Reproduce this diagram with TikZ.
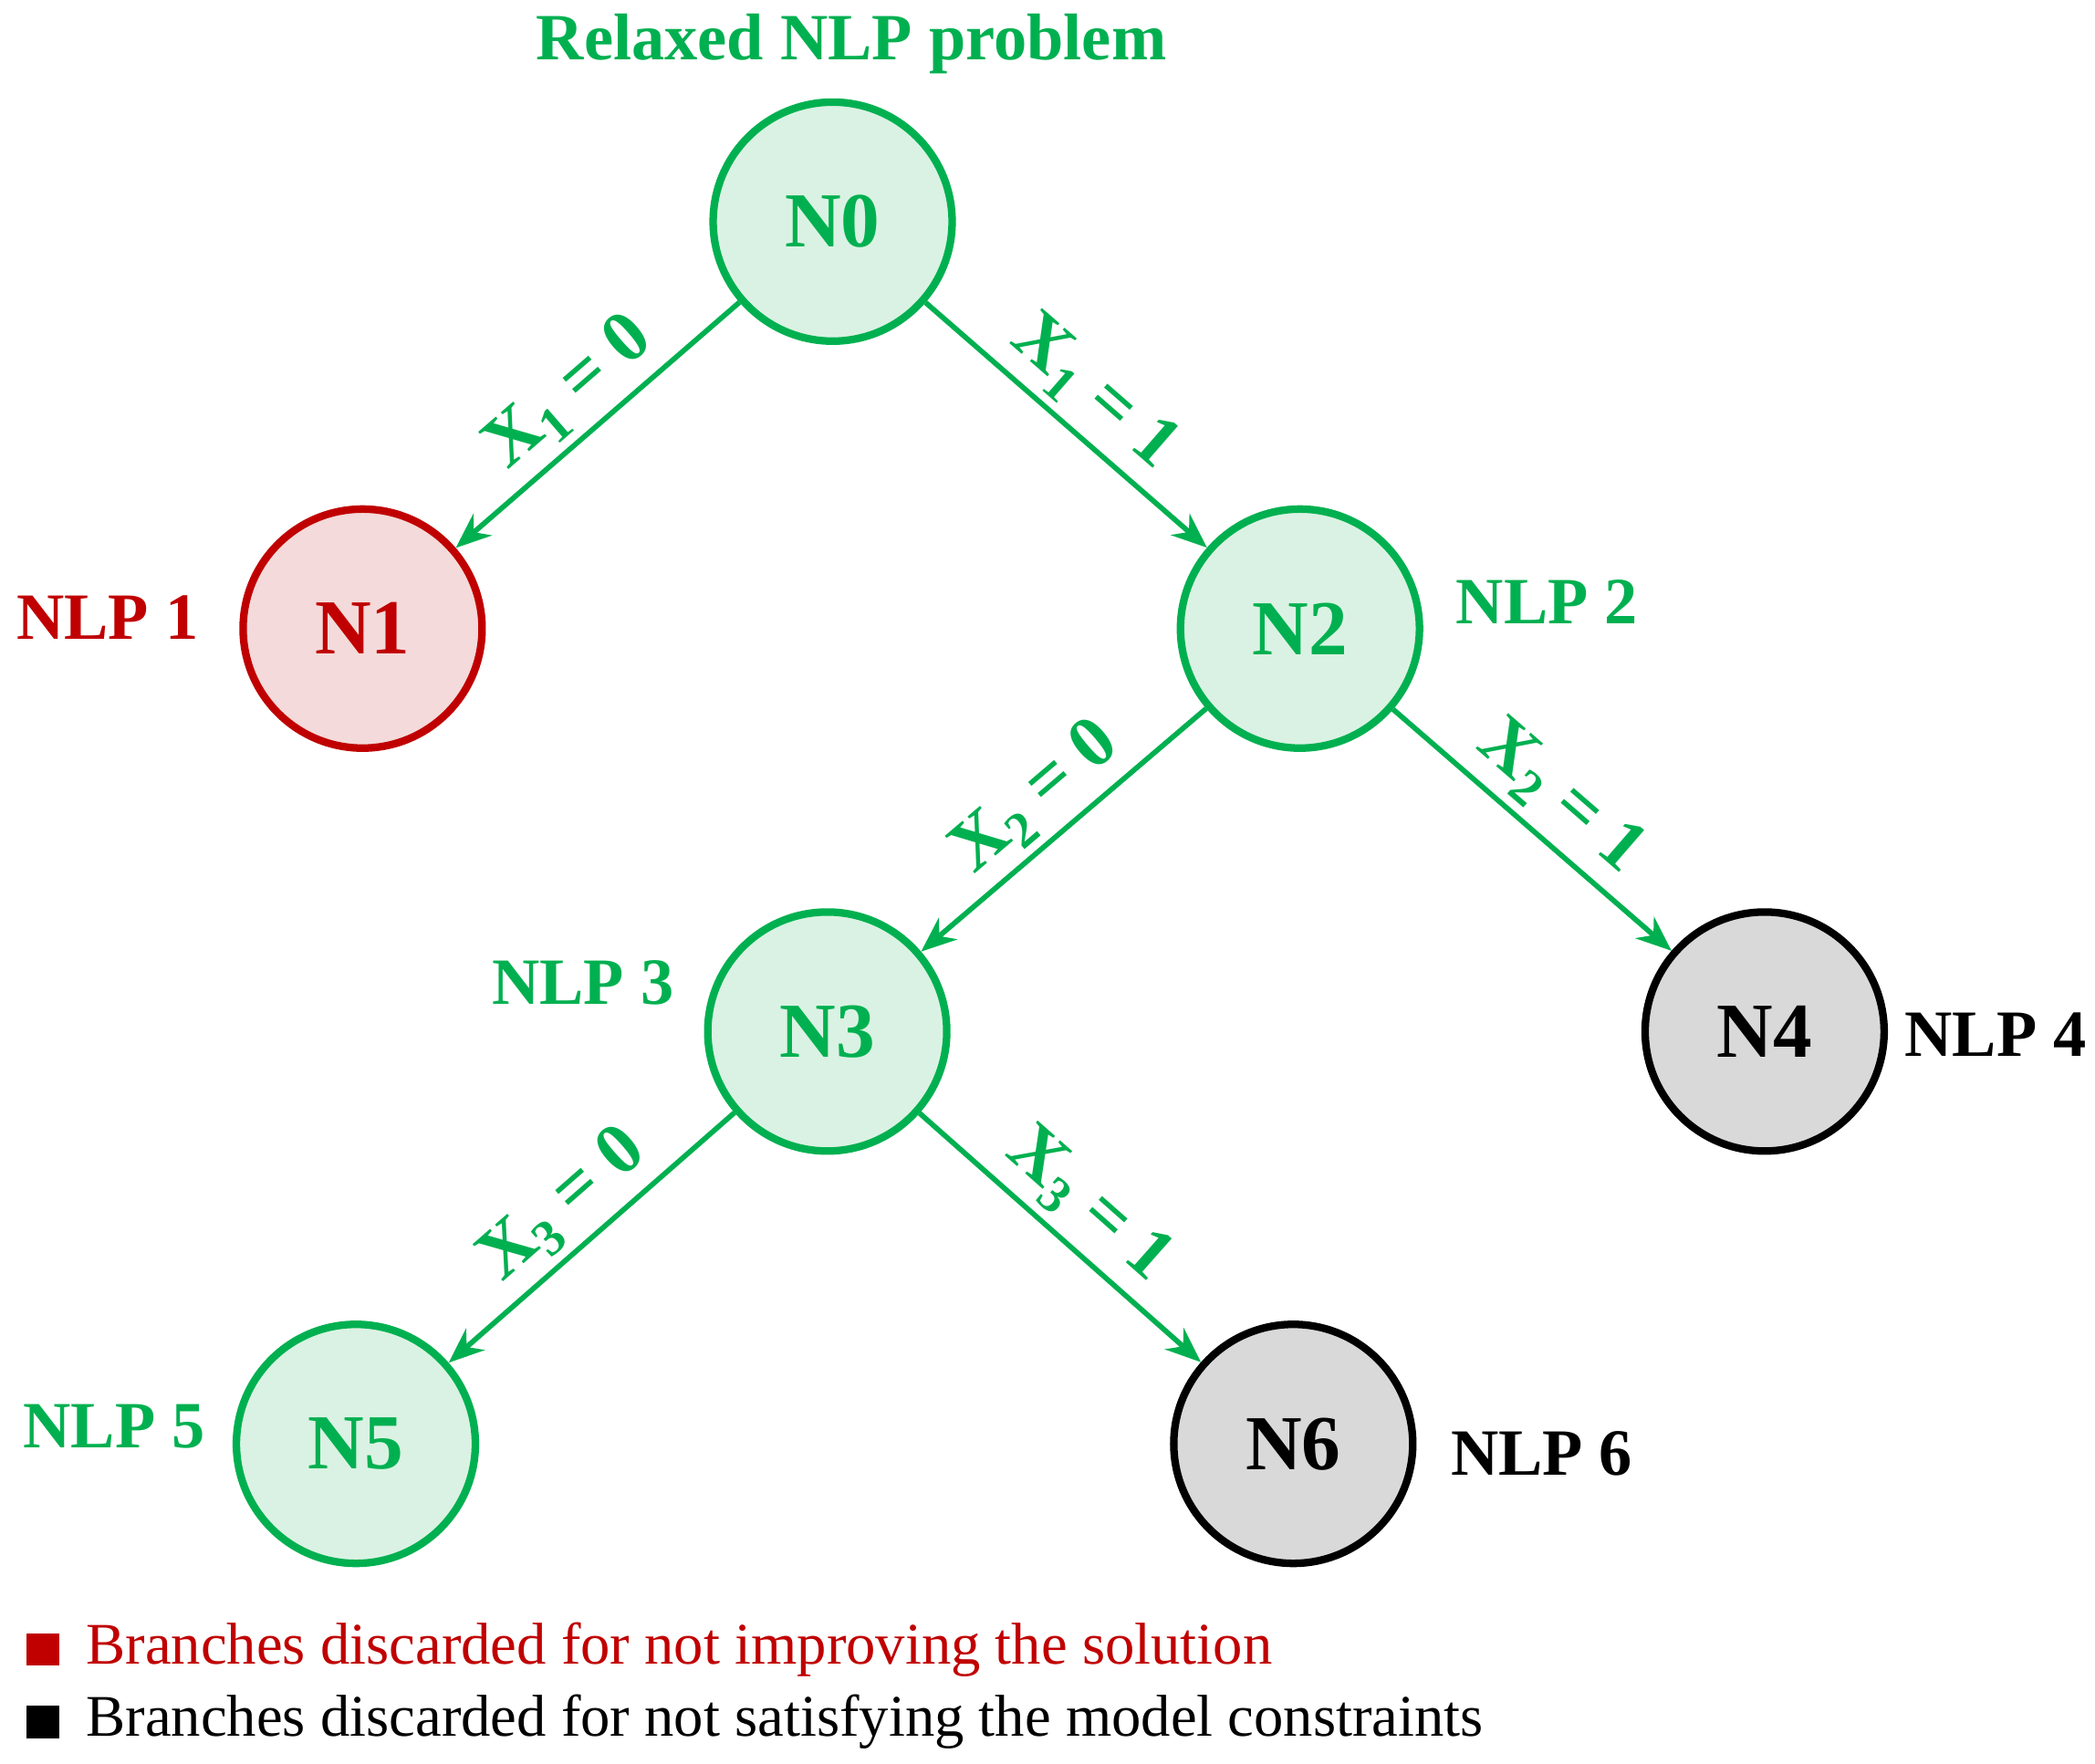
\documentclass[tikz,border=0pt]{standalone}
\usepackage{fontspec}
\setmainfont{Liberation Serif}
\usetikzlibrary{arrows.meta}
\definecolor{gr}{RGB}{0,176,80}
\definecolor{grf}{RGB}{218,242,227}
\definecolor{rd}{RGB}{192,0,0}
\definecolor{rdf}{RGB}{244,218,218}
\definecolor{gyf}{RGB}{217,217,217}
\begin{document}
\begin{tikzpicture}[x=0.02cm,y=-0.02cm,
  nd/.style={circle,minimum size=3.56cm,line width=3.2pt,font=\fontsize{33}{34}\selectfont\bfseries,inner sep=0pt},
  gn/.style={nd,draw=gr,fill=grf,text=gr},
  rn/.style={nd,draw=rd,fill=rdf,text=rd},
  kn/.style={nd,draw=black,fill=gyf,text=black},
  lab/.style={font=\fontsize{28}{29}\selectfont\bfseries},
  el/.style={font=\fontsize{31}{32}\selectfont\bfseries,text=gr,midway,sloped,above=1pt},
  ar/.style={draw=gr,line width=2.2pt,-{Stealth[length=15pt,width=12pt]}}]
\useasboundingbox (0,0) rectangle (1560,1313);
\node[gn] (N0) at (620,165) {N0};
\node[rn] (N1) at (270,468) {N1};
\node[gn] (N2) at (968,468) {N2};
\node[gn] (N3) at (616,768) {N3};
\node[kn] (N4) at (1314,768) {N4};
\node[gn] (N5) at (265,1075) {N5};
\node[kn] (N6) at (963,1075) {N6};
\node[lab,text=gr] (t0) at (634,33) {Relaxed NLP problem};
\node[lab,text=rd] (t1) at (80,460) {NLP 1};
\node[lab,text=gr] (t2) at (1152,448) {NLP 2};
\node[lab,text=gr] (t3) at (434,732) {NLP 3};
\node[lab,text=black] (t4) at (1486,770) {NLP 4};
\node[lab,text=gr] (t5) at (85,1062) {NLP 5};
\node[lab,text=black] (t6) at (1148,1082) {NLP 6};
\draw[ar] (N0) -- (N1);
\draw[ar] (N0) -- (N2);
\draw[ar] (N2) -- (N3);
\draw[ar] (N2) -- (N4);
\draw[ar] (N3) -- (N5);
\draw[ar] (N3) -- (N6);
\path (N1) -- (N0) node[el] {X\textsubscript{1} = 0};
\path (N0) -- (N2) node[el] {X\textsubscript{1} = 1};
\path (N3) -- (N2) node[el] {X\textsubscript{2} = 0};
\path (N2) -- (N4) node[el] {X\textsubscript{2} = 1};
\path (N5) -- (N3) node[el] {X\textsubscript{3} = 0};
\path (N3) -- (N6) node[el] {X\textsubscript{3} = 1};
\fill[rd] (20,1216) rectangle (44,1240);
\node[anchor=west,text=rd,font=\fontsize{25}{26}\selectfont] (l1) at (58,1228) {Branches discarded for not improving the solution};
\fill[black] (20,1270) rectangle (44,1294);
\node[anchor=west,font=\fontsize{25}{26}\selectfont] (l2) at (58,1282) {Branches discarded for not satisfying the model constraints};
\end{tikzpicture}
\end{document}
